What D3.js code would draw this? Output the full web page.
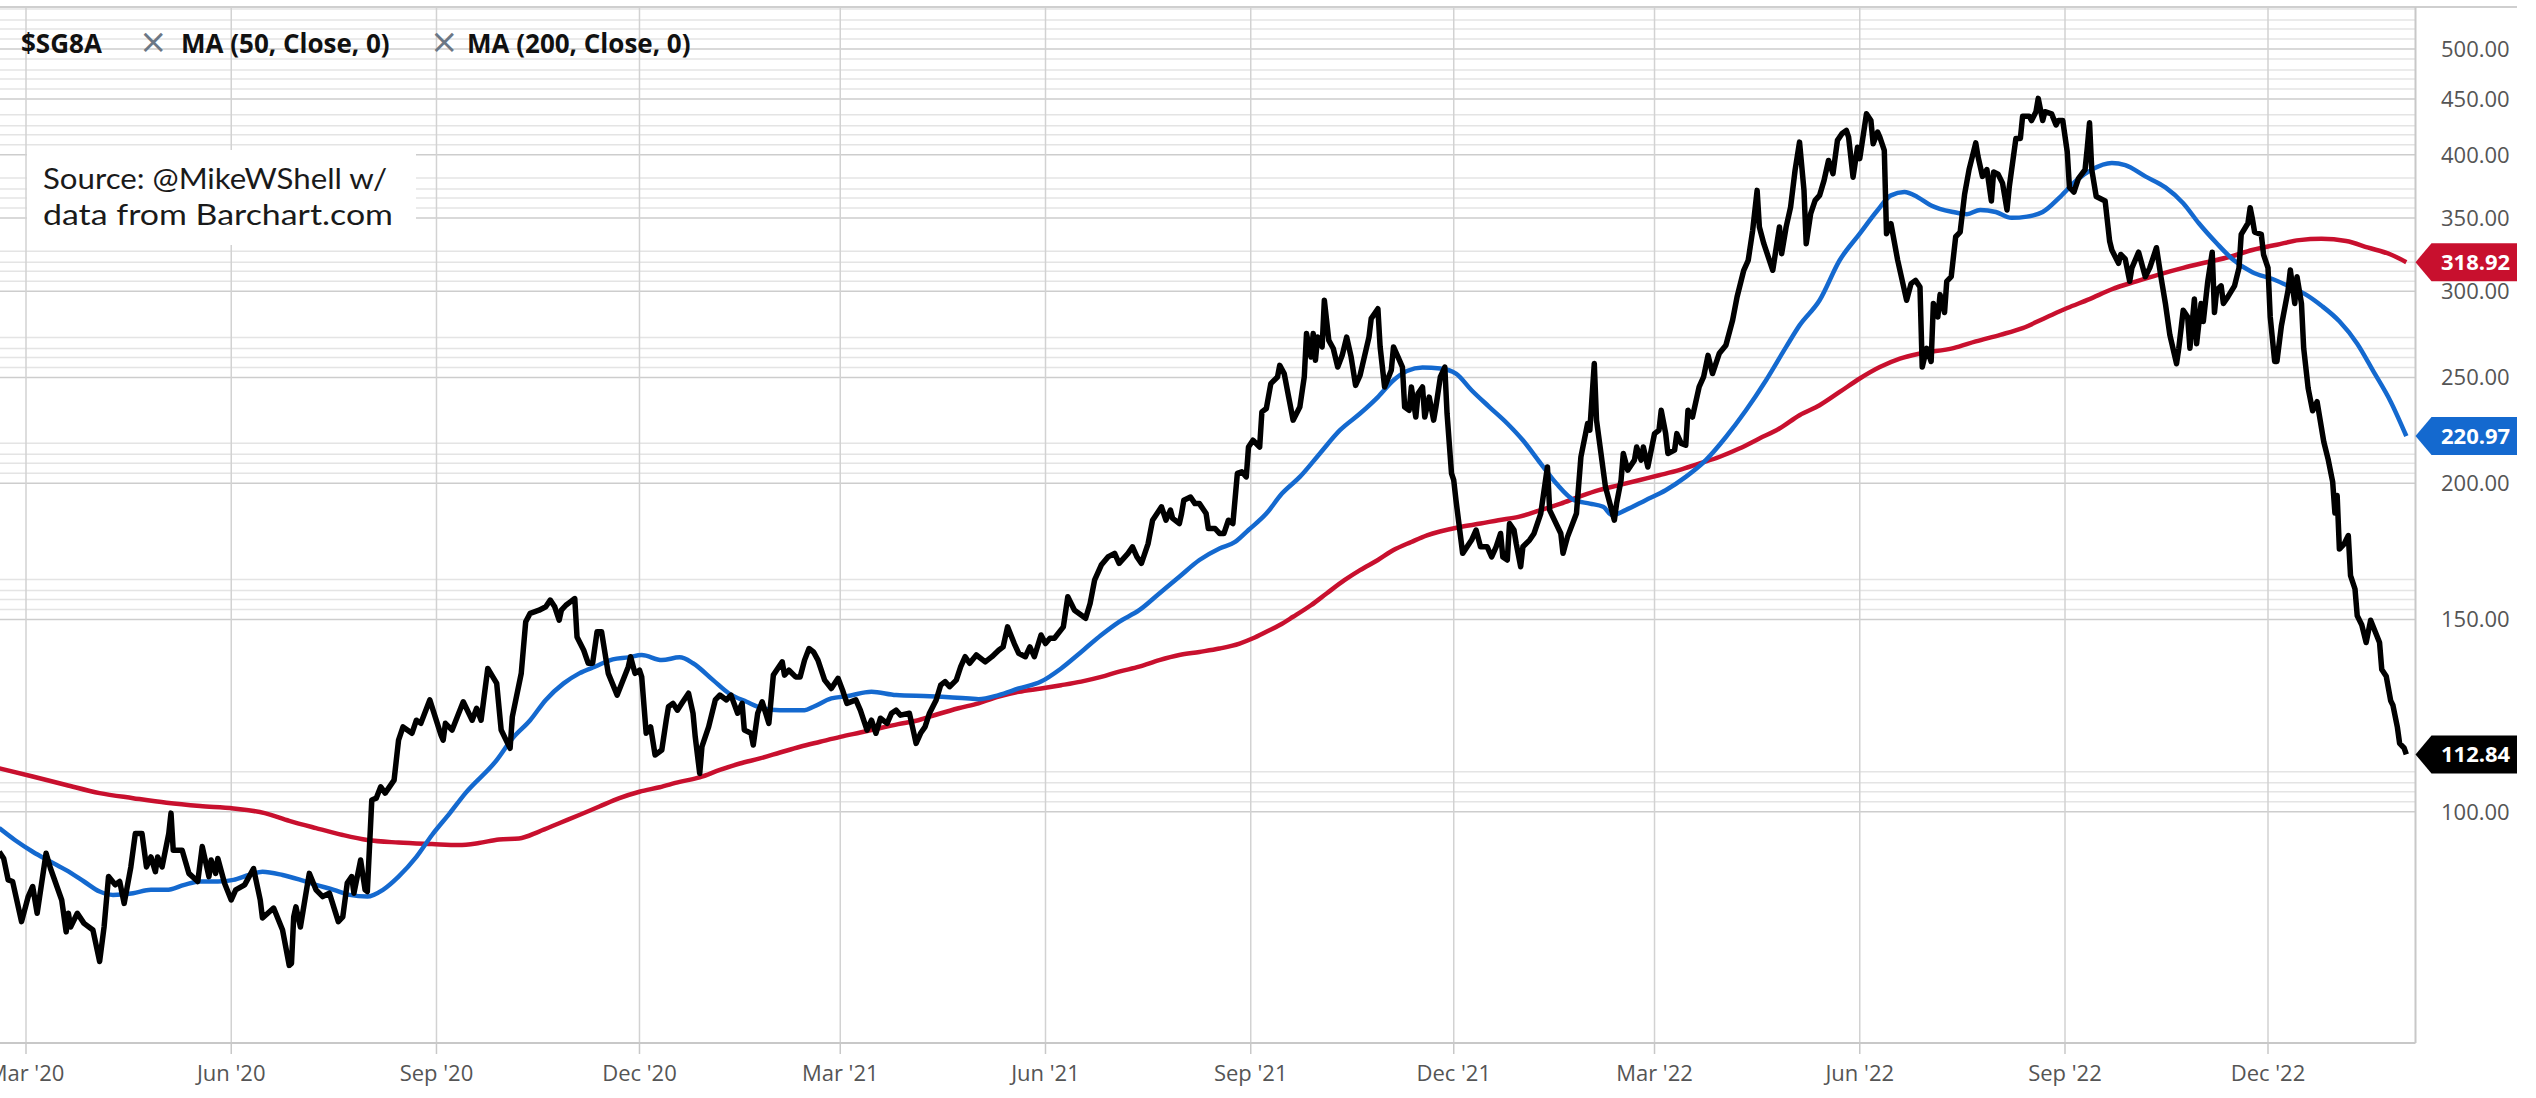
<!DOCTYPE html>
<html>
<head>
<meta charset="utf-8">
<script src="https://cdn.jsdelivr.net/npm/d3@7/dist/d3.min.js"></script>
<style>
  body { margin: 0; background: #fff; }
  svg { display: block; }
</style>
</head>
<body>
<svg id="chart" width="2536" height="1098"></svg>
<script>
// $SG8A daily close with 50 and 200 day moving averages

var price = [
  ["2020-02-18", 91.9], ["2020-02-20", 90.6], ["2020-02-22", 86.6], ["2020-02-24", 86.3], ["2020-02-28", 79.3],
  ["2020-03-02", 83.6], ["2020-03-04", 85.4], ["2020-03-06", 80.7], ["2020-03-10", 91.6], ["2020-03-12", 88.7],
  ["2020-03-17", 83.0], ["2020-03-19", 77.6], ["2020-03-20", 80.7], ["2020-03-21", 78.4], ["2020-03-24", 80.7],
  ["2020-03-27", 79.0], ["2020-03-31", 77.9], ["2020-04-03", 72.9], ["2020-04-05", 78.4], ["2020-04-07", 87.2],
  ["2020-04-10", 85.7], ["2020-04-12", 86.3], ["2020-04-14", 82.4], ["2020-04-17", 89.0], ["2020-04-19", 95.5],
  ["2020-04-22", 95.5], ["2020-04-24", 89.0], ["2020-04-26", 90.9], ["2020-04-28", 88.1], ["2020-04-29", 90.9],
  ["2020-05-01", 89.0], ["2020-05-04", 95.5], ["2020-05-05", 99.7], ["2020-05-06", 92.2], ["2020-05-10", 92.2],
  ["2020-05-13", 87.8], ["2020-05-17", 86.3], ["2020-05-19", 92.9], ["2020-05-22", 87.2], ["2020-05-23", 90.3],
  ["2020-05-25", 87.8], ["2020-05-26", 90.6], ["2020-05-29", 86.0], ["2020-06-01", 83.0], ["2020-06-03", 84.8],
  ["2020-06-07", 85.7], ["2020-06-11", 88.7], ["2020-06-14", 83.0], ["2020-06-15", 79.9], ["2020-06-20", 81.6],
  ["2020-06-24", 77.9], ["2020-06-27", 72.3], ["2020-06-28", 72.6], ["2020-06-29", 80.1], ["2020-06-30", 81.8],
  ["2020-07-02", 78.4], ["2020-07-05", 85.4], ["2020-07-06", 87.8], ["2020-07-09", 84.8], ["2020-07-12", 83.6],
  ["2020-07-15", 84.2], ["2020-07-19", 79.3], ["2020-07-21", 80.1], ["2020-07-23", 86.0], ["2020-07-25", 87.2],
  ["2020-07-26", 84.2], ["2020-07-29", 90.3], ["2020-07-31", 84.8], ["2020-08-01", 84.5], ["2020-08-03", 102.5],
  ["2020-08-05", 102.9], ["2020-08-07", 105.4], ["2020-08-09", 104.0], ["2020-08-13", 106.9], ["2020-08-15", 116.3],
  ["2020-08-17", 119.6], ["2020-08-21", 118.0], ["2020-08-23", 121.3], ["2020-08-25", 120.5], ["2020-08-29", 126.6],
  ["2020-09-03", 117.6], ["2020-09-04", 116.3], ["2020-09-05", 120.5], ["2020-09-08", 118.8], ["2020-09-13", 126.1],
  ["2020-09-17", 121.3], ["2020-09-19", 124.4], ["2020-09-21", 121.3], ["2020-09-24", 135.3], ["2020-09-28", 131.1],
  ["2020-09-30", 118.8], ["2020-10-04", 114.3], ["2020-10-05", 122.2], ["2020-10-09", 133.9], ["2020-10-11", 149.3],
  ["2020-10-13", 152.0], ["2020-10-17", 153.0], ["2020-10-20", 154.1], ["2020-10-22", 156.3], ["2020-10-24", 154.1],
  ["2020-10-26", 149.8], ["2020-10-27", 153.0], ["2020-10-29", 154.6], ["2020-10-31", 155.7], ["2020-11-02", 156.8],
  ["2020-11-03", 144.6], ["2020-11-06", 140.6], ["2020-11-08", 136.8], ["2020-11-10", 136.8], ["2020-11-12", 146.2],
  ["2020-11-14", 146.2], ["2020-11-17", 133.9], ["2020-11-21", 127.9], ["2020-11-26", 135.8], ["2020-11-27", 138.7],
  ["2020-11-29", 133.9], ["2020-12-01", 134.8], ["2020-12-02", 132.9], ["2020-12-04", 118.0], ["2020-12-06", 119.6],
  ["2020-12-08", 112.7], ["2020-12-11", 113.9], ["2020-12-13", 121.3], ["2020-12-14", 124.8], ["2020-12-16", 125.7],
  ["2020-12-18", 123.9], ["2020-12-20", 125.7], ["2020-12-23", 128.4], ["2020-12-25", 123.1], ["2020-12-26", 117.1],
  ["2020-12-28", 108.4], ["2020-12-29", 114.7], ["2021-01-01", 119.6], ["2021-01-04", 126.6], ["2021-01-06", 127.9],
  ["2021-01-09", 126.6], ["2021-01-11", 127.9], ["2021-01-14", 123.1], ["2021-01-16", 125.7], ["2021-01-17", 118.8],
  ["2021-01-20", 118.0], ["2021-01-21", 115.1], ["2021-01-23", 123.1], ["2021-01-25", 126.1], ["2021-01-28", 120.5],
  ["2021-01-30", 133.4], ["2021-02-03", 137.2], ["2021-02-04", 133.4], ["2021-02-06", 134.8], ["2021-02-09", 132.9],
  ["2021-02-11", 132.9], ["2021-02-13", 137.7], ["2021-02-15", 141.1], ["2021-02-17", 140.1], ["2021-02-19", 137.7],
  ["2021-02-22", 132.0], ["2021-02-25", 129.7], ["2021-02-28", 132.5], ["2021-03-02", 129.3], ["2021-03-04", 125.7],
  ["2021-03-08", 126.6], ["2021-03-10", 123.9], ["2021-03-13", 118.8], ["2021-03-15", 121.3], ["2021-03-17", 118.0],
  ["2021-03-19", 121.8], ["2021-03-22", 120.5], ["2021-03-24", 123.1], ["2021-03-26", 123.9], ["2021-03-28", 122.6],
  ["2021-04-01", 123.1], ["2021-04-03", 118.0], ["2021-04-04", 115.5], ["2021-04-06", 118.0], ["2021-04-08", 119.6],
  ["2021-04-10", 123.1], ["2021-04-13", 126.6], ["2021-04-15", 130.6], ["2021-04-17", 131.6], ["2021-04-19", 130.2],
  ["2021-04-22", 132.0], ["2021-04-24", 135.8], ["2021-04-26", 138.7], ["2021-04-28", 136.8], ["2021-05-01", 139.2],
  ["2021-05-05", 137.2], ["2021-05-08", 138.7], ["2021-05-11", 140.6], ["2021-05-13", 141.6], ["2021-05-15", 147.7],
  ["2021-05-18", 142.6], ["2021-05-20", 139.7], ["2021-05-23", 138.7], ["2021-05-25", 141.6], ["2021-05-27", 138.7],
  ["2021-05-30", 145.2], ["2021-06-01", 142.6], ["2021-06-03", 144.2], ["2021-06-05", 144.2], ["2021-06-09", 147.7],
  ["2021-06-11", 157.4], ["2021-06-14", 153.0], ["2021-06-19", 150.4], ["2021-06-21", 155.2], ["2021-06-23", 163.0],
  ["2021-06-26", 168.3], ["2021-06-29", 171.2], ["2021-07-02", 172.5], ["2021-07-04", 168.9], ["2021-07-08", 172.5],
  ["2021-07-10", 174.9], ["2021-07-12", 171.2], ["2021-07-14", 168.9], ["2021-07-17", 176.1], ["2021-07-19", 185.0],
  ["2021-07-23", 190.3], ["2021-07-25", 185.0], ["2021-07-27", 189.0], ["2021-07-28", 185.7], ["2021-07-31", 183.7],
  ["2021-08-01", 187.6], ["2021-08-02", 193.0], ["2021-08-05", 194.3], ["2021-08-07", 191.6], ["2021-08-09", 191.6],
  ["2021-08-12", 187.6], ["2021-08-13", 181.8], ["2021-08-16", 181.8], ["2021-08-18", 179.9], ["2021-08-20", 179.9],
  ["2021-08-22", 185.0], ["2021-08-24", 183.7], ["2021-08-26", 204.2], ["2021-08-28", 204.9], ["2021-08-30", 202.7],
  ["2021-08-31", 215.9], ["2021-09-02", 219.0], ["2021-09-05", 215.9], ["2021-09-06", 232.5], ["2021-09-08", 234.2],
  ["2021-09-10", 246.8], ["2021-09-13", 250.3], ["2021-09-14", 256.5], ["2021-09-16", 252.1], ["2021-09-18", 239.9],
  ["2021-09-20", 228.5], ["2021-09-23", 234.9], ["2021-09-25", 250.3], ["2021-09-26", 274.3], ["2021-09-28", 261.1],
  ["2021-09-29", 274.3], ["2021-09-30", 259.3], ["2021-10-01", 272.3], ["2021-10-03", 266.7], ["2021-10-04", 294.3],
  ["2021-10-06", 270.4], ["2021-10-08", 265.8], ["2021-10-10", 255.6], ["2021-10-12", 262.0], ["2021-10-14", 272.3],
  ["2021-10-16", 261.1], ["2021-10-18", 245.9], ["2021-10-20", 251.2], ["2021-10-24", 272.3], ["2021-10-25", 283.1],
  ["2021-10-28", 289.1], ["2021-10-29", 266.7], ["2021-10-31", 245.1], ["2021-11-03", 253.9], ["2021-11-04", 266.7],
  ["2021-11-06", 261.1], ["2021-11-08", 255.6], ["2021-11-09", 234.9], ["2021-11-11", 233.3], ["2021-11-12", 245.1],
  ["2021-11-14", 230.0], ["2021-11-15", 241.7], ["2021-11-17", 245.1], ["2021-11-18", 230.0], ["2021-11-20", 239.9],
  ["2021-11-22", 228.5], ["2021-11-23", 234.9], ["2021-11-25", 250.3], ["2021-11-27", 255.6], ["2021-11-28", 231.7],
  ["2021-11-30", 204.2], ["2021-12-01", 201.3], ["2021-12-02", 193.0], ["2021-12-05", 172.5], ["2021-12-09", 177.4],
  ["2021-12-11", 181.2], ["2021-12-13", 174.9], ["2021-12-16", 174.9], ["2021-12-18", 171.2], ["2021-12-20", 174.9],
  ["2021-12-22", 179.9], ["2021-12-23", 171.2], ["2021-12-25", 170.1], ["2021-12-26", 183.7], ["2021-12-28", 181.2],
  ["2021-12-29", 176.1], ["2021-12-31", 167.7], ["2022-01-01", 174.9], ["2022-01-04", 177.4], ["2022-01-06", 179.9],
  ["2022-01-09", 187.6], ["2022-01-12", 207.0], ["2022-01-13", 189.0], ["2022-01-18", 179.9], ["2022-01-19", 172.5],
  ["2022-01-21", 178.6], ["2022-01-25", 187.6], ["2022-01-27", 211.4], ["2022-01-30", 226.9], ["2022-01-31", 223.7],
  ["2022-02-02", 257.5], ["2022-02-03", 228.5], ["2022-02-05", 213.0], ["2022-02-07", 198.5], ["2022-02-11", 185.0],
  ["2022-02-12", 191.6], ["2022-02-14", 201.3], ["2022-02-15", 213.0], ["2022-02-17", 205.6], ["2022-02-20", 210.0],
  ["2022-02-21", 215.9], ["2022-02-23", 210.0], ["2022-02-24", 215.9], ["2022-02-26", 207.0], ["2022-03-01", 222.1],
  ["2022-03-03", 223.7], ["2022-03-04", 233.3], ["2022-03-06", 222.1], ["2022-03-07", 213.0], ["2022-03-10", 214.5],
  ["2022-03-11", 222.1], ["2022-03-13", 217.5], ["2022-03-15", 216.7], ["2022-03-16", 233.3], ["2022-03-18", 230.0],
  ["2022-03-21", 245.1], ["2022-03-23", 250.3], ["2022-03-25", 262.0], ["2022-03-27", 252.1], ["2022-03-30", 263.0],
  ["2022-04-02", 267.6], ["2022-04-05", 282.1], ["2022-04-07", 296.3], ["2022-04-10", 313.5], ["2022-04-12", 320.2],
  ["2022-04-14", 341.1], ["2022-04-16", 371.1], ["2022-04-17", 343.5], ["2022-04-19", 331.6], ["2022-04-23", 313.5],
  ["2022-04-26", 343.5], ["2022-04-27", 324.7], ["2022-04-29", 343.5], ["2022-05-01", 358.2], ["2022-05-03", 387.1],
  ["2022-05-05", 410.9], ["2022-05-07", 371.1], ["2022-05-08", 331.6], ["2022-05-10", 353.3], ["2022-05-12", 363.3],
  ["2022-05-14", 367.2], ["2022-05-16", 379.0], ["2022-05-18", 395.3], ["2022-05-20", 384.4], ["2022-05-22", 412.4],
  ["2022-05-24", 418.2], ["2022-05-26", 421.2], ["2022-05-27", 415.2], ["2022-05-29", 381.6], ["2022-05-31", 406.5],
  ["2022-06-01", 396.8], ["2022-06-04", 436.2], ["2022-06-06", 430.1], ["2022-06-07", 409.5], ["2022-06-09", 419.7],
  ["2022-06-10", 415.2], ["2022-06-12", 403.8], ["2022-06-13", 338.7], ["2022-06-15", 345.9], ["2022-06-18", 320.2],
  ["2022-06-22", 294.3], ["2022-06-24", 304.8], ["2022-06-26", 306.9], ["2022-06-28", 302.6], ["2022-06-29", 255.6],
  ["2022-07-01", 265.9], ["2022-07-03", 258.6], ["2022-07-04", 292.3], ["2022-07-06", 284.1], ["2022-07-07", 297.8],
  ["2022-07-09", 286.8], ["2022-07-10", 306.3], ["2022-07-12", 309.3], ["2022-07-14", 336.5], ["2022-07-16", 339.8],
  ["2022-07-18", 368.1], ["2022-07-20", 387.7], ["2022-07-23", 410.2], ["2022-07-24", 398.7], ["2022-07-26", 382.2],
  ["2022-07-28", 387.7], ["2022-07-30", 362.9], ["2022-07-31", 385.8], ["2022-08-02", 384.0], ["2022-08-04", 376.8],
  ["2022-08-06", 356.1], ["2022-08-07", 373.4], ["2022-08-10", 414.1], ["2022-08-12", 414.1], ["2022-08-13", 434.0],
  ["2022-08-16", 434.0], ["2022-08-17", 430.0], ["2022-08-19", 438.1], ["2022-08-20", 450.6], ["2022-08-22", 430.0],
  ["2022-08-23", 438.1], ["2022-08-26", 436.1], ["2022-08-28", 426.0], ["2022-08-29", 430.0], ["2022-08-31", 430.0],
  ["2022-09-02", 402.6], ["2022-09-03", 373.4], ["2022-09-05", 369.8], ["2022-09-07", 380.4], ["2022-09-10", 387.7],
  ["2022-09-11", 406.3], ["2022-09-12", 428.0], ["2022-09-13", 387.7], ["2022-09-15", 366.3], ["2022-09-19", 362.9],
  ["2022-09-21", 333.5], ["2022-09-22", 327.2], ["2022-09-25", 318.1], ["2022-09-26", 324.1], ["2022-09-28", 321.1],
  ["2022-09-30", 306.3], ["2022-10-01", 315.1], ["2022-10-04", 325.7], ["2022-10-07", 309.3], ["2022-10-09", 315.1],
  ["2022-10-12", 328.8], ["2022-10-14", 309.3], ["2022-10-16", 292.3], ["2022-10-18", 273.6], ["2022-10-21", 257.4],
  ["2022-10-22", 265.9], ["2022-10-24", 288.2], ["2022-10-26", 284.1], ["2022-10-27", 265.9], ["2022-10-29", 295.0],
  ["2022-10-30", 268.5], ["2022-11-01", 292.3], ["2022-11-02", 281.4], ["2022-11-04", 306.3], ["2022-11-06", 325.7],
  ["2022-11-07", 286.8], ["2022-11-08", 300.6], ["2022-11-10", 303.4], ["2022-11-11", 292.3], ["2022-11-13", 296.4],
  ["2022-11-16", 303.4], ["2022-11-18", 315.1], ["2022-11-19", 338.2], ["2022-11-22", 346.2], ["2022-11-23", 357.8],
  ["2022-11-24", 349.5], ["2022-11-25", 339.8], ["2022-11-28", 338.2], ["2022-11-29", 324.1], ["2022-12-01", 315.1],
  ["2022-12-02", 284.1], ["2022-12-04", 258.6], ["2022-12-05", 258.6], ["2022-12-07", 278.8], ["2022-12-10", 300.6],
  ["2022-12-11", 313.7], ["2022-12-13", 292.3], ["2022-12-14", 309.3], ["2022-12-16", 292.3], ["2022-12-17", 265.9],
  ["2022-12-19", 244.4], ["2022-12-21", 233.1], ["2022-12-23", 237.6], ["2022-12-26", 218.3], ["2022-12-28", 210.2],
  ["2022-12-30", 200.5], ["2022-12-31", 187.8], ["2023-01-01", 194.9], ["2023-01-02", 174.1], ["2023-01-04", 175.8],
  ["2023-01-06", 179.1], ["2023-01-07", 164.6], ["2023-01-09", 160.0], ["2023-01-10", 151.2], ["2023-01-12", 148.4],
  ["2023-01-14", 142.9], ["2023-01-16", 149.8], ["2023-01-20", 142.9], ["2023-01-21", 135.0], ["2023-01-23", 133.1],
  ["2023-01-25", 126.4], ["2023-01-26", 125.2], ["2023-01-28", 119.5], ["2023-01-29", 115.5], ["2023-01-31", 114.4],
  ["2023-02-01", 112.84]
];

var ma50 = [
  ["2020-02-18", 96.6], ["2020-02-25", 94.2], ["2020-03-04", 91.9], ["2020-03-12", 90.0], ["2020-03-19", 88.4],
  ["2020-03-27", 86.3], ["2020-04-03", 84.5], ["2020-04-09", 83.9], ["2020-04-18", 84.2], ["2020-04-26", 84.8],
  ["2020-05-03", 84.8], ["2020-05-11", 85.7], ["2020-05-18", 86.3], ["2020-05-26", 86.3], ["2020-06-02", 86.6],
  ["2020-06-09", 87.5], ["2020-06-15", 88.1], ["2020-06-24", 87.5], ["2020-07-02", 86.6], ["2020-07-09", 85.7],
  ["2020-07-17", 84.8], ["2020-07-24", 83.9], ["2020-08-01", 83.6], ["2020-08-08", 84.8], ["2020-08-15", 87.2],
  ["2020-08-23", 90.9], ["2020-08-30", 95.2], ["2020-09-07", 99.7], ["2020-09-14", 104.0], ["2020-09-28", 111.5],
  ["2020-10-05", 116.7], ["2020-10-13", 121.3], ["2020-10-20", 126.6], ["2020-10-28", 131.1], ["2020-11-04", 133.9],
  ["2020-11-11", 135.8], ["2020-11-19", 137.9], ["2020-11-26", 138.5], ["2020-12-02", 139.2], ["2020-12-11", 137.7],
  ["2020-12-19", 138.5], ["2020-12-25", 136.8], ["2021-01-03", 132.0], ["2021-01-10", 128.4], ["2021-01-18", 126.1],
  ["2021-01-25", 124.4], ["2021-02-02", 123.9], ["2021-02-13", 123.9], ["2021-02-17", 124.8], ["2021-02-25", 127.0],
  ["2021-03-04", 127.6], ["2021-03-15", 128.8], ["2021-03-26", 127.9], ["2021-04-10", 127.6], ["2021-04-28", 127.0],
  ["2021-05-02", 126.8], ["2021-05-11", 127.9], ["2021-05-20", 129.7], ["2021-05-30", 131.6], ["2021-06-08", 135.3],
  ["2021-06-17", 140.1], ["2021-06-26", 145.2], ["2021-07-04", 149.3], ["2021-07-13", 153.0], ["2021-07-22", 158.5],
  ["2021-07-31", 164.2], ["2021-08-09", 170.1], ["2021-08-18", 174.3], ["2021-08-25", 176.7], ["2021-08-31", 181.2],
  ["2021-09-08", 187.6], ["2021-09-15", 195.7], ["2021-09-23", 202.7], ["2021-10-02", 213.0], ["2021-10-11", 223.7],
  ["2021-10-20", 231.7], ["2021-10-28", 239.9], ["2021-11-04", 248.6], ["2021-11-10", 253.5], ["2021-11-17", 255.3],
  ["2021-11-25", 254.8], ["2021-12-02", 252.1], ["2021-12-09", 243.4], ["2021-12-17", 234.9], ["2021-12-25", 226.9],
  ["2022-01-01", 219.0], ["2022-01-09", 208.5], ["2022-01-16", 199.9], ["2022-01-24", 193.0], ["2022-01-31", 191.6],
  ["2022-02-06", 190.3], ["2022-02-10", 187.0], ["2022-02-16", 189.0], ["2022-02-25", 193.0], ["2022-03-06", 197.1],
  ["2022-03-15", 202.7], ["2022-03-24", 210.0], ["2022-04-02", 220.5], ["2022-04-11", 233.3], ["2022-04-20", 248.6],
  ["2022-04-29", 266.7], ["2022-05-05", 279.1], ["2022-05-14", 294.3], ["2022-05-23", 320.2], ["2022-06-01", 338.7],
  ["2022-06-09", 355.8], ["2022-06-15", 367.2], ["2022-06-21", 369.8], ["2022-06-27", 365.8], ["2022-07-03", 359.5],
  ["2022-07-13", 354.5], ["2022-07-19", 352.9], ["2022-07-25", 356.1], ["2022-08-01", 354.5], ["2022-08-08", 350.2],
  ["2022-08-15", 351.1], ["2022-08-22", 354.5], ["2022-08-30", 366.3], ["2022-09-06", 378.7], ["2022-09-13", 387.7],
  ["2022-09-22", 393.2], ["2022-09-28", 391.4], ["2022-10-07", 382.2], ["2022-10-16", 373.4], ["2022-10-24", 361.2],
  ["2022-10-31", 346.2], ["2022-11-08", 331.9], ["2022-11-15", 321.1], ["2022-11-24", 312.2], ["2022-12-03", 307.8],
  ["2022-12-10", 303.4], ["2022-12-18", 297.8], ["2022-12-25", 290.9], ["2023-01-02", 281.5], ["2023-01-10", 268.5],
  ["2023-01-17", 253.8], ["2023-01-25", 237.6], ["2023-02-01", 220.97]
];

var ma200 = [
  ["2020-02-18", 109.6], ["2020-03-04", 107.7], ["2020-03-19", 105.8], ["2020-04-03", 104.0], ["2020-04-18", 102.9],
  ["2020-05-03", 101.9], ["2020-05-18", 101.2], ["2020-06-02", 100.7], ["2020-06-16", 99.7], ["2020-06-27", 98.1],
  ["2020-07-09", 96.6], ["2020-07-21", 95.2], ["2020-08-01", 94.2], ["2020-08-15", 93.7], ["2020-08-30", 93.4],
  ["2020-09-11", 93.2], ["2020-09-20", 93.6], ["2020-09-29", 94.3], ["2020-10-08", 94.5], ["2020-10-17", 95.9],
  ["2020-10-26", 97.6], ["2020-11-04", 99.3], ["2020-11-13", 101.1], ["2020-11-22", 102.9], ["2020-12-01", 104.3],
  ["2020-12-10", 105.3], ["2020-12-19", 106.5], ["2020-12-28", 107.5], ["2021-01-06", 109.2], ["2021-01-15", 110.7],
  ["2021-01-24", 111.9], ["2021-02-02", 113.3], ["2021-02-11", 114.7], ["2021-02-20", 115.9], ["2021-03-01", 117.1],
  ["2021-03-10", 118.2], ["2021-03-18", 119.2], ["2021-03-27", 120.3], ["2021-04-05", 121.3], ["2021-04-14", 122.9],
  ["2021-04-23", 124.4], ["2021-05-02", 125.7], ["2021-05-11", 127.5], ["2021-05-20", 128.8], ["2021-05-30", 129.7],
  ["2021-06-08", 130.6], ["2021-06-17", 131.6], ["2021-06-26", 132.9], ["2021-07-04", 134.4], ["2021-07-13", 135.8],
  ["2021-07-22", 137.7], ["2021-07-31", 139.2], ["2021-08-09", 140.1], ["2021-08-18", 141.1], ["2021-08-27", 142.6],
  ["2021-09-02", 144.2], ["2021-09-08", 146.2], ["2021-09-14", 148.3], ["2021-09-20", 150.9], ["2021-09-28", 154.6],
  ["2021-10-05", 158.5], ["2021-10-13", 163.0], ["2021-10-20", 166.5], ["2021-10-28", 170.1], ["2021-11-04", 173.7],
  ["2021-11-12", 176.7], ["2021-11-19", 179.2], ["2021-12-04", 182.4], ["2021-12-13", 183.7], ["2021-12-21", 185.0],
  ["2021-12-30", 186.3], ["2022-01-09", 189.0], ["2022-01-18", 191.6], ["2022-01-26", 194.3], ["2022-02-04", 197.1],
  ["2022-02-13", 199.2], ["2022-02-22", 201.3], ["2022-03-03", 203.4], ["2022-03-12", 205.6], ["2022-03-21", 208.5],
  ["2022-03-30", 211.4], ["2022-04-08", 215.2], ["2022-04-17", 219.8], ["2022-04-26", 224.5], ["2022-05-05", 230.9],
  ["2022-05-14", 235.8], ["2022-05-23", 242.5], ["2022-06-01", 249.5], ["2022-06-10", 255.6], ["2022-06-19", 260.2],
  ["2022-06-28", 263.0], ["2022-07-13", 266.0], ["2022-07-23", 269.8], ["2022-08-03", 273.6], ["2022-08-13", 277.5],
  ["2022-08-24", 284.1], ["2022-09-02", 289.5], ["2022-09-12", 295.0], ["2022-09-22", 301.2], ["2022-10-03", 306.3],
  ["2022-10-13", 310.7], ["2022-10-24", 315.1], ["2022-11-03", 318.7], ["2022-11-14", 322.6], ["2022-11-24", 327.2],
  ["2022-12-05", 330.9], ["2022-12-15", 334.1], ["2022-12-25", 335.0], ["2023-01-05", 333.5], ["2023-01-15", 328.8],
  ["2023-01-25", 324.1], ["2023-02-01", 318.92]
];

var xTicks = ["2020-03-01", "2020-06-01", "2020-09-01", "2020-12-01", "2021-03-01", "2021-06-01",
              "2021-09-01", "2021-12-01", "2022-03-01", "2022-06-01", "2022-09-01", "2022-12-01"];
var yTicks = [100, 150, 200, 250, 300, 350, 400, 450, 500];
var legendLabels = ["$SG8A", "MA (50, Close, 0)", "MA (200, Close, 0)"];
var sourceLines = ["Source: @MikeWShell w/", "data from Barchart.com"];

var parseDate = d3.utcParse("%Y-%m-%d");
function toRows(a) { return a.map(function(d) { return {date: parseDate(d[0]), value: d[1]}; }); }

var series = [
  {name: "ma200", color: "#c8102e", width: 4.5, rows: toRows(ma200)},
  {name: "ma50", color: "#1469cf", width: 4.5, rows: toRows(ma50)},
  {name: "price", color: "#000000", width: 5.5, rows: toRows(price)}
];

var plotRight = 2415.5, plotTop = 7, plotBottom = 1043;

var x = d3.scaleUtc()
    .domain([parseDate("2020-03-01"), parseDate("2022-12-01")])
    .range([26, 2268]);
var y = d3.scaleLog()
    .domain([100, 500])
    .range([811.7, 49.1]);

var svg = d3.select("#chart");
svg.append("rect").attr("width", 2536).attr("height", 1098).attr("fill", "#fff");

svg.append("defs").append("clipPath").attr("id", "plotclip")
  .append("rect").attr("x", 0).attr("y", plotTop).attr("width", plotRight).attr("height", plotBottom - plotTop);

var grid = svg.append("g").attr("clip-path", "url(#plotclip)");

// faint helper lines sitting just above each labelled level
var minorOffsets = [10, 20, 29, 40];
yTicks.forEach(function(v) {
  grid.selectAll(null)
      .data(minorOffsets)
    .enter().append("line")
      .attr("x1", 0).attr("x2", plotRight)
      .attr("y1", function(o) { return y(v) - o; })
      .attr("y2", function(o) { return y(v) - o; })
      .attr("stroke", "#e4e4e4").attr("stroke-width", 1.5);
});

grid.selectAll(".hgrid")
    .data(yTicks)
  .enter().append("line")
    .attr("class", "hgrid")
    .attr("x1", 0).attr("x2", plotRight)
    .attr("y1", function(d) { return y(d); })
    .attr("y2", function(d) { return y(d); })
    .attr("stroke", "#cdcdcd").attr("stroke-width", 1.5);

grid.selectAll(".vgrid")
    .data(xTicks)
  .enter().append("line")
    .attr("class", "vgrid")
    .attr("x1", function(d) { return x(parseDate(d)); })
    .attr("x2", function(d) { return x(parseDate(d)); })
    .attr("y1", plotTop).attr("y2", plotBottom)
    .attr("stroke", "#d2d2d2").attr("stroke-width", 1.5);

// frame
svg.append("line").attr("x1", 0).attr("x2", 2517).attr("y1", plotTop).attr("y2", plotTop)
    .attr("stroke", "#cfcfcf").attr("stroke-width", 2);
svg.append("line").attr("x1", 0).attr("x2", plotRight).attr("y1", plotBottom).attr("y2", plotBottom)
    .attr("stroke", "#c8c8c8").attr("stroke-width", 2);
svg.append("line").attr("x1", plotRight).attr("x2", plotRight).attr("y1", plotTop).attr("y2", plotBottom)
    .attr("stroke", "#c8c8c8").attr("stroke-width", 2);

// source note box
var note = svg.append("g");
note.append("rect").attr("x", 27).attr("y", 150).attr("width", 389).attr("height", 95).attr("fill", "#fff");
note.selectAll("text")
    .data(sourceLines)
  .enter().append("text")
    .attr("x", 43)
    .attr("y", function(d, i) { return 189 + i * 36; })
    .attr("textLength", function(d, i) { return i ? 350 : 344; })
    .attr("lengthAdjust", "spacingAndGlyphs")
    .style("font", "29px 'Century Gothic', 'URW Gothic', Lato, sans-serif")
    .style("fill", "#1a1a1a")
    .text(function(d) { return d; });

// lines
var lines = svg.append("g").attr("clip-path", "url(#plotclip)");
series.forEach(function(s) {
  var gen = d3.line()
      .x(function(d) { return x(d.date); })
      .y(function(d) { return y(d.value); });
  if (s.name !== "price") gen.curve(d3.curveMonotoneX);
  lines.append("path")
      .datum(s.rows)
      .attr("d", gen)
      .attr("fill", "none")
      .attr("stroke", s.color)
      .attr("stroke-width", s.width)
      .attr("stroke-linejoin", "round")
      .attr("stroke-linecap", "butt");
});

// x axis
var xa = svg.append("g").style("font", "22px 'Open Sans', sans-serif");
xa.selectAll("line")
    .data(xTicks)
  .enter().append("line")
    .attr("x1", function(d) { return x(parseDate(d)); })
    .attr("x2", function(d) { return x(parseDate(d)); })
    .attr("y1", plotBottom).attr("y2", plotBottom + 11)
    .attr("stroke", "#c8c8c8").attr("stroke-width", 1.5);
xa.selectAll("text")
    .data(xTicks)
  .enter().append("text")
    .attr("x", function(d) { return x(parseDate(d)); })
    .attr("y", 1081)
    .attr("text-anchor", "middle")
    .style("fill", "#555")
    .text(function(d) { return d3.utcFormat("%b '%y")(parseDate(d)); });

// y axis (right)
var ya = svg.append("g").style("font", "22px 'Open Sans', sans-serif");
ya.selectAll("text")
    .data(yTicks)
  .enter().append("text")
    .attr("x", 2441)
    .attr("y", function(d) { return y(d); })
    .attr("dy", "0.36em")
    .style("fill", "#555")
    .text(function(d) { return d3.format(".2f")(d); });

// last value flags
series.forEach(function(s) {
  var last = s.rows[s.rows.length - 1], cy = y(last.value), h = 19;
  var flag = svg.append("g");
  flag.append("path")
      .attr("d", "M" + plotRight + "," + cy + "L" + (plotRight + 16) + "," + (cy - h) +
                 "L2517," + (cy - h) + "L2517," + (cy + h) + "L" + (plotRight + 16) + "," + (cy + h) + "Z")
      .attr("fill", s.color);
  flag.append("text")
      .attr("x", 2441).attr("y", cy).attr("dy", "0.36em")
      .style("font", "bold 22px 'Open Sans', sans-serif")
      .style("fill", "#fff")
      .text(d3.format(".2f")(last.value));
});

// legend
var legend = svg.append("g").style("font", "bold 26px 'Open Sans', sans-serif");
var legendX = [21, 181, 467], crossX = [139, 430];
legend.selectAll(".lbl")
    .data(legendLabels)
  .enter().append("text")
    .attr("class", "lbl")
    .attr("x", function(d, i) { return legendX[i]; })
    .attr("y", 53)
    .style("fill", "#111")
    .text(function(d) { return d; });
legend.selectAll(".cross")
    .data(crossX)
  .enter().append("text")
    .attr("class", "cross")
    .attr("x", function(d) { return d; })
    .attr("y", 53)
    .style("font", "normal 34px 'DejaVu Sans', sans-serif")
    .style("fill", "#6b7785")
    .text("\u00d7");
</script>
</body>
</html>
